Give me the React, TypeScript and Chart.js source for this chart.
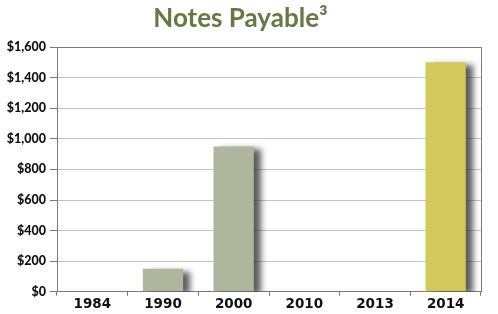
import React, { useEffect, useRef } from "react";
import { Chart, registerables } from "chart.js";

Chart.register(...registerables);

const categories = ["1984", "1990", "2000", "2010", "2013", "2014"];
const values = [0, 150, 950, 0, 0, 1500];
const barColors = ["#aeb69e", "#aeb69e", "#aeb69e", "#aeb69e", "#aeb69e", "#d3c85b"];
const titleText = "Notes Payable\u00B3";
const yMax = 1600;
const yStep = 200;

const shadowPlugin = {
  id: "barShadow",
  beforeDatasetsDraw(chart: any) {
    const ctx = chart.ctx;
    ctx.save();
    ctx.shadowColor = "rgba(40,40,40,0.75)";
    ctx.shadowOffsetX = 7;
    ctx.shadowOffsetY = 3;
    ctx.shadowBlur = 6;
  },
  afterDatasetsDraw(chart: any) {
    chart.ctx.restore();
  },
};

const frameBorderPlugin = {
  id: "frameBorder",
  afterDraw(chart: any) {
    const { ctx, chartArea } = chart;
    const r = Math.round(chartArea.right) + 0.5;
    const t = Math.round(chartArea.top) + 0.5;
    ctx.save();
    ctx.strokeStyle = "#7a7a7a";
    ctx.lineWidth = 1;
    ctx.beginPath();
    ctx.moveTo(chartArea.left, t);
    ctx.lineTo(r, t);
    ctx.lineTo(r, chartArea.bottom);
    ctx.stroke();
    ctx.restore();
  },
};

export default function App() {
  const ref = useRef<HTMLCanvasElement>(null);
  useEffect(() => {
    if (!ref.current) return;
    const chart = new Chart(ref.current, {
      type: "bar",
      data: {
        labels: categories,
        datasets: [
          {
            data: values,
            backgroundColor: barColors,
            borderWidth: 0,
            barPercentage: 0.57,
            categoryPercentage: 1,
          },
        ],
      },
      plugins: [shadowPlugin, frameBorderPlugin],
      options: {
        animation: false,
        responsive: false,
        layout: { padding: { left: 0, right: 17, top: 0, bottom: 0 } },
        plugins: {
          legend: { display: false },
          tooltip: { enabled: false },
          title: {
            display: true,
            text: titleText,
            color: "#657943",
            font: { family: "Lato", weight: "bold", size: 26 },
            padding: { top: 3, bottom: 12.8 },
          },
        },
        scales: {
          x: {
            offset: true,
            grid: {
              offset: true,
              drawOnChartArea: false,
              tickLength: 4,
              color: "#7a7a7a",
            },
            border: { color: "#7a7a7a" },
            ticks: {
              color: "#111",
              padding: 1,
              font: { family: "DejaVu Sans", weight: "bold", size: 13.5 },
            },
          },
          y: {
            min: 0,
            max: yMax,
            afterFit(scale: any) {
              scale.width = 57;
            },
            grid: {
              color: "#c4c4c4",
              tickColor: "#7a7a7a",
              tickLength: 7,
            },
            border: { color: "#7a7a7a" },
            ticks: {
              stepSize: yStep,
              color: "#111",
              padding: 4,
              font: { family: "Lato", weight: "900", size: 12.5 },
              callback: (v: any) => "$" + Number(v).toLocaleString("en-US"),
            },
          },
        },
      },
    });
    return () => chart.destroy();
  }, []);
  return (
    <div style={{ position: "absolute", left: 0, top: 0, width: 498, height: 314, background: "#fff" }}>
      <canvas ref={ref} width={498} height={314} />
    </div>
  );
}
